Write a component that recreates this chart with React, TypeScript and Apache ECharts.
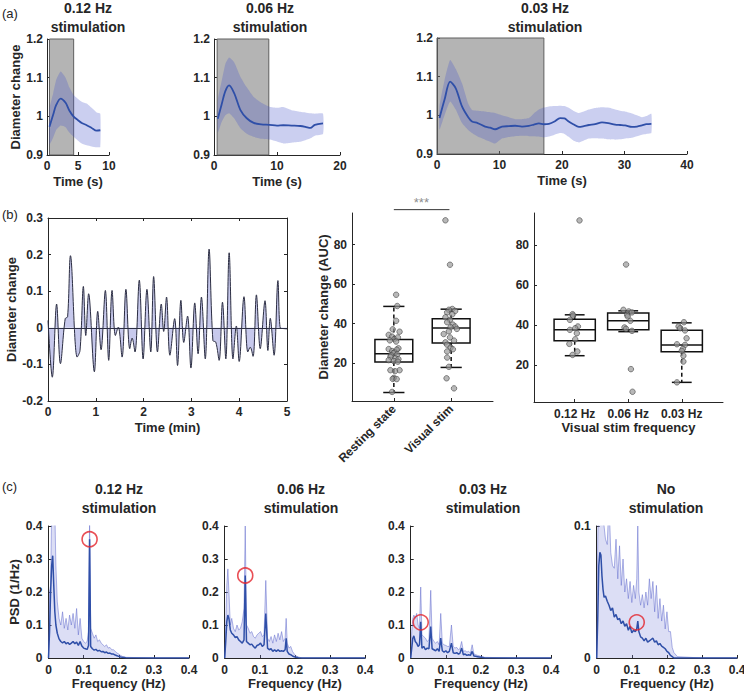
import { useEffect, useRef } from 'react';
import * as echarts from 'echarts';

const FONT = '"Liberation Sans", Arial, Helvetica, sans-serif';
const TXT = '#262626';
const MEAN_BLUE = '#2f4fa8';
const BAND_A = 'rgba(70,82,200,0.28)';
const GREY_STIM = 'rgba(105,105,105,0.5)';
const RED = '#e4232b';

// ---------------- Panel (a) ----------------
const aTitles = ['0.12 Hz', '0.06 Hz', '0.03 Hz'];
const aTimeMax = [10, 20, 40];
const aTimeStep = [5, 10, 10];
const aStimWindow = [[0.4, 4.3], [0.5, 8.7], [0, 17.1]];

const a1Time = [0.4, 1.0, 1.5, 2.2, 3.0, 3.6, 4.3, 5.0, 5.6, 6.4, 7.2, 8.0, 8.6];
const a1Mean = [0.973, 1.005, 1.03, 1.046, 1.035, 1.015, 0.999, 0.99, 0.983, 0.977, 0.97, 0.963, 0.964];
const a1Upper = [1.02, 1.06, 1.095, 1.116, 1.1, 1.075, 1.055, 1.045, 1.038, 1.033, 1.022, 1.01, 1.007];
const a1Lower = [0.927, 0.945, 0.965, 0.976, 0.972, 0.958, 0.947, 0.937, 0.93, 0.925, 0.922, 0.92, 0.921];

const a2Time = [0.6, 1.2, 1.8, 2.4, 3.2, 4.2, 5.2, 6.3, 7.5, 8.8, 10, 11, 12.3, 13.7, 14.5, 15.3, 16, 17.3];
const a2Mean = [0.994, 1.03, 1.065, 1.08, 1.06, 1.016, 0.995, 0.983, 0.979, 0.978, 0.976, 0.977, 0.976, 0.975, 0.973, 0.97, 0.978, 0.982];
const a2Upper = [1.042, 1.09, 1.135, 1.152, 1.14, 1.102, 1.075, 1.05, 1.035, 1.025, 1.022, 1.024, 1.016, 1.012, 1.01, 1.008, 1.007, 1.007];
const a2Lower = [0.958, 0.985, 1.003, 1.008, 0.995, 0.969, 0.955, 0.947, 0.942, 0.94, 0.935, 0.93, 0.932, 0.934, 0.938, 0.943, 0.95, 0.954];

const a3Time = [0.4, 1.2, 2.1, 3.0, 4.0, 5.0, 5.6, 6.5, 7.7, 8.5, 9.3, 10.4, 11.5, 12.5, 13.6, 14.7, 15.5, 16.3, 17.1, 17.9, 18.8, 19.7, 20.4, 21.0, 21.8, 22.7, 23.5, 24.3, 25.3, 26.4, 27.4, 28.5, 29.3, 30.1, 31.2, 32.0, 32.8, 33.5, 34.3];
const a3Mean = [0.993, 1.04, 1.087, 1.07, 1.023, 0.995, 0.984, 0.98, 0.971, 0.968, 0.964, 0.971, 0.972, 0.973, 0.971, 0.973, 0.976, 0.979, 0.977, 0.978, 0.984, 0.993, 0.992, 0.985, 0.977, 0.97, 0.972, 0.975, 0.977, 0.982, 0.98, 0.976, 0.975, 0.974, 0.97, 0.971, 0.974, 0.977, 0.978];
const a3Upper = [1.023, 1.09, 1.143, 1.12, 1.083, 1.03, 1.014, 1.012, 1.01, 1.008, 1.006, 1.0, 0.995, 0.99, 0.99, 0.993, 1.005, 1.015, 1.02, 1.023, 1.024, 1.025, 1.024, 1.02, 1.012, 1.006, 1.01, 1.015, 1.019, 1.021, 1.02, 1.015, 1.012, 1.01, 1.005, 1.0, 0.995, 0.998, 1.004];
const a3Lower = [0.963, 1.0, 1.036, 1.015, 0.98, 0.962, 0.954, 0.945, 0.937, 0.932, 0.927, 0.94, 0.944, 0.946, 0.947, 0.946, 0.946, 0.945, 0.943, 0.945, 0.95, 0.954, 0.952, 0.945, 0.935, 0.93, 0.935, 0.94, 0.941, 0.94, 0.938, 0.937, 0.938, 0.94, 0.942, 0.946, 0.95, 0.952, 0.954];

// ---------------- Panel (b) ----------------
const b1Time = [0, 0.09, 0.18, 0.26, 0.36, 0.41, 0.47, 0.61, 0.67, 0.74, 0.79, 0.85, 0.97, 1.04, 1.11, 1.2, 1.27, 1.34, 1.41, 1.47, 1.55, 1.63, 1.71, 1.76, 1.82, 1.91, 1.99, 2.07, 2.15, 2.21, 2.29, 2.37, 2.42, 2.48, 2.55, 2.65, 2.71, 2.78, 2.84, 2.92, 2.99, 3.07, 3.14, 3.21, 3.29, 3.37, 3.45, 3.51, 3.58, 3.65, 3.72, 3.79, 3.87, 3.94, 4.0, 4.1, 4.18, 4.23, 4.29, 4.36, 4.44, 4.54, 4.6, 4.65, 4.73, 4.81, 4.86, 4.92, 5.0];
const b1Value = [0.02, -0.135, 0.065, -0.098, 0.025, 0.03, 0.197, -0.08, -0.062, 0.113, -0.021, 0.093, -0.12, 0.045, -0.06, 0.102, -0.089, 0.102, -0.021, 0.002, -0.08, 0.105, -0.057, -0.028, -0.066, 0.13, -0.085, 0.105, -0.066, 0.14, -0.066, 0.065, -0.01, 0.084, -0.075, 0.025, -0.103, 0.075, -0.04, 0.032, -0.11, 0.068, -0.071, 0.084, -0.085, 0.215, -0.035, -0.039, -0.089, 0.07, -0.085, 0.205, -0.085, 0.005, -0.092, 0.085, -0.066, -0.053, -0.078, 0.09, -0.057, 0.074, -0.062, 0.026, -0.075, 0.129, -0.001, -0.002, -0.003];

const b2Categories = ['Resting state', 'Visual stim'];
// [lower whisker, Q1, median, Q3, upper whisker]
const b2Box = [
  [5.1, 20.5, 24.7, 32.0, 48.7],
  [17.8, 30.2, 37.8, 42.4, 47.3],
];
const restingPoints = [
  [1.04, 54.6], [1.06, 48.9], [1.04, 41.4], [0.98, 37.1], [1.10, 35.9], [0.91, 34.3], [0.97, 33.4], [1.01, 32.2],
  [1.07, 33.0], [0.93, 31.5], [1.04, 30.9], [0.91, 27.1], [1.08, 27.5], [0.97, 26.1], [1.05, 26.8], [1.01, 25.4],
  [0.99, 25.0], [1.06, 24.4], [0.95, 24.0], [0.94, 23.2], [1.03, 22.4], [1.08, 22.0], [0.91, 21.5], [1.0, 21.0],
  [1.07, 20.7], [0.94, 16.4], [1.10, 16.4], [1.02, 15.9], [1.0, 12.5], [0.98, 12.0], [1.05, 11.9], [0.97, 5.4],
];
const visualPoints = [
  [1.90, 92.3], [1.98, 69.8], [2.02, 47.4], [1.96, 47.0], [2.07, 46.4], [1.93, 45.7], [2.02, 44.7], [1.90, 43.2],
  [1.98, 41.9], [1.93, 40.7], [2.03, 39.5], [2.07, 38.5], [1.99, 38.2], [2.10, 37.3], [1.96, 36.1], [1.87, 34.7],
  [1.98, 33.0], [2.05, 31.4], [1.90, 30.5], [1.93, 29.3], [1.99, 27.9], [2.03, 27.0], [1.93, 25.9], [1.93, 22.8],
  [1.96, 18.1], [1.92, 12.3], [2.05, 7.2],
];
const sigLevel = 97.7;
const sigText = '***';

const b3Categories = ['0.12 Hz', '0.06 Hz', '0.03 Hz'];
const b3Box = [
  [24.8, 32.2, 37.7, 43.0, 45.2],
  [36.8, 37.7, 42.2, 46.1, 47.2],
  [11.5, 26.8, 30.2, 37.5, 41.2],
];
const b3Points012 = [[1.09, 92.3], [0.96, 45.5], [0.97, 44.8], [0.91, 42.7], [1.06, 39.4], [0.91, 37.7], [1.01, 38.5], [1.04, 36.0], [1.01, 33.0], [0.90, 30.7], [1.05, 26.9], [0.96, 25.2]];
const b3Points006 = [[1.96, 70.3], [1.91, 47.7], [2.01, 46.9], [2.07, 46.4], [1.98, 45.2], [1.99, 44.4], [2.04, 42.2], [1.93, 38.9], [1.96, 38.2], [2.07, 37.2], [2.05, 18.1], [2.08, 6.8]];
const b3Points003 = [[3.04, 41.5], [2.94, 39.4], [2.97, 38.5], [3.06, 37.4], [3.09, 33.5], [2.91, 30.5], [3.06, 30.2], [3.02, 28.2], [3.0, 27.2], [3.03, 24.8], [3.03, 21.9], [2.91, 11.5]];

// ---------------- Panel (c) ----------------
const cTitles = [['0.12 Hz', 'stimulation'], ['0.06 Hz', 'stimulation'], ['0.03 Hz', 'stimulation'], ['No', 'stimulation']];
const cYMax = [0.4, 0.4, 0.4, 0.1];
const cPeaks = [[0.117, 0.36], [0.0585, 0.25], [0.0285, 0.108], [0.114, 0.027]];

const c1Freq = [0, 0.003, 0.006, 0.009, 0.012, 0.015, 0.018, 0.021, 0.025, 0.03, 0.035, 0.04, 0.045, 0.05, 0.055, 0.06, 0.065, 0.07, 0.075, 0.08, 0.085, 0.09, 0.095, 0.1, 0.105, 0.11, 0.114, 0.117, 0.12, 0.125, 0.13, 0.135, 0.14, 0.145, 0.15, 0.155, 0.16, 0.165, 0.17, 0.175, 0.18, 0.185, 0.19, 0.195, 0.2, 0.205, 0.21, 0.22, 0.3, 0.4];
const c1Mean = [0, 0.08, 0.2, 0.28, 0.31, 0.22, 0.14, 0.1, 0.075, 0.058, 0.05, 0.046, 0.05, 0.043, 0.047, 0.041, 0.045, 0.05, 0.043, 0.048, 0.038, 0.05, 0.036, 0.03, 0.028, 0.026, 0.038, 0.36, 0.035, 0.028, 0.024, 0.026, 0.021, 0.023, 0.019, 0.02, 0.016, 0.018, 0.014, 0.015, 0.012, 0.012, 0.009, 0.007, 0.005, 0.003, 0.002, 0.001, 0, 0];
const c1Upper = [0, 0.2, 0.22, 0.45, 0.45, 0.45, 0.45, 0.28, 0.17, 0.12, 0.1, 0.14, 0.09, 0.12, 0.085, 0.13, 0.1, 0.135, 0.09, 0.15, 0.07, 0.12, 0.06, 0.05, 0.045, 0.05, 0.08, 0.42, 0.09, 0.075, 0.06, 0.07, 0.05, 0.055, 0.045, 0.04, 0.035, 0.04, 0.03, 0.032, 0.025, 0.025, 0.02, 0.015, 0.012, 0.008, 0.005, 0.002, 0, 0];

const c2Freq = [0, 0.003, 0.006, 0.009, 0.012, 0.016, 0.02, 0.025, 0.03, 0.035, 0.04, 0.045, 0.05, 0.055, 0.0585, 0.062, 0.067, 0.072, 0.077, 0.082, 0.087, 0.092, 0.097, 0.102, 0.107, 0.112, 0.117, 0.122, 0.127, 0.132, 0.137, 0.142, 0.147, 0.152, 0.157, 0.162, 0.167, 0.172, 0.175, 0.178, 0.183, 0.188, 0.193, 0.198, 0.203, 0.21, 0.22, 0.3, 0.4];
const c2Mean = [0, 0.05, 0.11, 0.13, 0.12, 0.085, 0.075, 0.07, 0.062, 0.065, 0.055, 0.05, 0.045, 0.055, 0.25, 0.05, 0.045, 0.04, 0.042, 0.035, 0.03, 0.038, 0.04, 0.045, 0.035, 0.04, 0.135, 0.03, 0.025, 0.028, 0.02, 0.025, 0.02, 0.025, 0.02, 0.022, 0.02, 0.025, 0.06, 0.02, 0.012, 0.01, 0.006, 0.004, 0.002, 0.001, 0, 0, 0];
const c2Upper = [0, 0.1, 0.22, 0.27, 0.2, 0.1, 0.12, 0.09, 0.08, 0.1, 0.085, 0.09, 0.11, 0.15, 0.4, 0.1, 0.09, 0.075, 0.08, 0.065, 0.06, 0.07, 0.075, 0.08, 0.065, 0.07, 0.235, 0.06, 0.05, 0.065, 0.045, 0.07, 0.05, 0.075, 0.055, 0.08, 0.05, 0.06, 0.12, 0.045, 0.03, 0.035, 0.02, 0.012, 0.006, 0.003, 0, 0, 0];

const c3Freq = [0, 0.003, 0.006, 0.009, 0.013, 0.017, 0.021, 0.025, 0.0285, 0.032, 0.037, 0.042, 0.047, 0.052, 0.057, 0.061, 0.066, 0.071, 0.076, 0.081, 0.0855, 0.09, 0.095, 0.1, 0.105, 0.11, 0.116, 0.121, 0.126, 0.131, 0.136, 0.14, 0.145, 0.15, 0.155, 0.16, 0.165, 0.17, 0.175, 0.18, 0.185, 0.19, 0.2, 0.21, 0.3, 0.4];
const c3Mean = [0, 0.03, 0.06, 0.067, 0.05, 0.045, 0.035, 0.04, 0.11, 0.03, 0.035, 0.025, 0.03, 0.028, 0.095, 0.028, 0.025, 0.022, 0.028, 0.02, 0.06, 0.022, 0.018, 0.022, 0.016, 0.02, 0.045, 0.016, 0.014, 0.016, 0.012, 0.014, 0.03, 0.01, 0.012, 0.008, 0.01, 0.008, 0.02, 0.006, 0.005, 0.004, 0.002, 0.001, 0, 0];
const c3Upper = [0, 0.08, 0.12, 0.13, 0.12, 0.135, 0.1, 0.09, 0.215, 0.07, 0.065, 0.06, 0.05, 0.055, 0.205, 0.06, 0.05, 0.045, 0.05, 0.04, 0.135, 0.045, 0.04, 0.038, 0.035, 0.035, 0.1, 0.035, 0.03, 0.032, 0.025, 0.028, 0.05, 0.02, 0.022, 0.018, 0.02, 0.015, 0.04, 0.012, 0.01, 0.008, 0.005, 0.002, 0, 0];

const c4Freq = [0, 0.003, 0.006, 0.009, 0.012, 0.015, 0.018, 0.021, 0.025, 0.03, 0.035, 0.04, 0.045, 0.05, 0.055, 0.06, 0.065, 0.07, 0.075, 0.08, 0.085, 0.09, 0.095, 0.1, 0.105, 0.11, 0.114, 0.117, 0.12, 0.125, 0.13, 0.135, 0.14, 0.145, 0.15, 0.155, 0.16, 0.165, 0.17, 0.175, 0.18, 0.185, 0.19, 0.195, 0.2, 0.205, 0.21, 0.215, 0.22, 0.23, 0.3, 0.4];
const c4Mean = [0, 0.03, 0.07, 0.08, 0.078, 0.062, 0.052, 0.046, 0.047, 0.043, 0.04, 0.036, 0.038, 0.031, 0.033, 0.029, 0.03, 0.026, 0.028, 0.024, 0.026, 0.021, 0.024, 0.019, 0.021, 0.02, 0.022, 0.028, 0.02, 0.016, 0.015, 0.013, 0.015, 0.012, 0.013, 0.014, 0.015, 0.012, 0.013, 0.01, 0.011, 0.009, 0.008, 0.007, 0.005, 0.004, 0.002, 0.001, 0, 0, 0, 0];
const c4Upper = [0, 0.09, 0.13, 0.14, 0.13, 0.12, 0.11, 0.1, 0.09, 0.086, 0.12, 0.08, 0.07, 0.068, 0.09, 0.06, 0.085, 0.055, 0.075, 0.05, 0.06, 0.045, 0.058, 0.042, 0.055, 0.045, 0.06, 0.1, 0.05, 0.04, 0.048, 0.038, 0.05, 0.04, 0.06, 0.045, 0.058, 0.035, 0.055, 0.03, 0.045, 0.028, 0.04, 0.022, 0.035, 0.02, 0.02, 0.008, 0.004, 0.001, 0, 0];

// ---------------- helpers ----------------
const zip = (xs: number[], ys: number[]) => xs.map((x, i) => [x, ys[i]]);

const labelStyle = { color: TXT, fontFamily: FONT, fontWeight: 'bold', fontSize: 12 };
const nameStyle = { color: TXT, fontFamily: FONT, fontWeight: 'bold', fontSize: 13 };

function axis(gridIndex: number, extra: any = {}) {
  const base: any = {
    gridIndex,
    type: 'value',
    axisLine: { show: true, onZero: false, lineStyle: { color: TXT, width: 1 } },
    axisTick: { show: true, inside: true, length: 3, lineStyle: { color: TXT, width: 1 } },
    axisLabel: { ...labelStyle, margin: 5 },
    splitLine: { show: false },
    nameLocation: 'middle',
    nameTextStyle: nameStyle,
  };
  const out = { ...base, ...extra };
  out.axisLabel = { ...base.axisLabel, ...(extra.axisLabel || {}) };
  out.axisTick = { ...base.axisTick, ...(extra.axisTick || {}) };
  out.axisLine = { ...base.axisLine, ...(extra.axisLine || {}) };
  return out;
}

// band drawn as one polygon through the axis scales (upper edge, then lower edge back)
function bandRenderer(xs: number[], lo: number[], hi: number[]) {
  return (params: any, api: any) => {
    if (params.dataIndex !== 0) return null;
    const top = xs.map((x, i) => api.coord([x, hi[i]]));
    const bottom = xs.map((x, i) => api.coord([x, lo[i]])).reverse();
    return {
      type: 'polygon',
      shape: { points: top.concat(bottom), smooth: 0.15 },
      style: { fill: BAND_A, stroke: 'none' },
    };
  };
}

function boxRenderer(boxW: number, capW: number) {
  return (params: any, api: any) => {
    const x = api.value(0);
    const lo = api.coord([x, api.value(1)]);
    const q1 = api.coord([x, api.value(2)]);
    const med = api.coord([x, api.value(3)]);
    const q3 = api.coord([x, api.value(4)]);
    const hi = api.coord([x, api.value(5)]);
    const bw = api.size([boxW, 0])[0];
    const cw = api.size([capW, 0])[0];
    const cx = lo[0];
    const stroke = '#111111';
    return {
      type: 'group',
      children: [
        { type: 'line', shape: { x1: cx, y1: q3[1], x2: cx, y2: hi[1] }, style: { stroke, lineWidth: 1.5, lineDash: [4, 3] } },
        { type: 'line', shape: { x1: cx, y1: q1[1], x2: cx, y2: lo[1] }, style: { stroke, lineWidth: 1.5, lineDash: [4, 3] } },
        { type: 'line', shape: { x1: cx - cw / 2, y1: hi[1], x2: cx + cw / 2, y2: hi[1] }, style: { stroke, lineWidth: 1.5 } },
        { type: 'line', shape: { x1: cx - cw / 2, y1: lo[1], x2: cx + cw / 2, y2: lo[1] }, style: { stroke, lineWidth: 1.5 } },
        { type: 'rect', shape: { x: cx - bw / 2, y: q3[1], width: bw, height: q1[1] - q3[1] }, style: { stroke, lineWidth: 1.5, fill: 'transparent' } },
        { type: 'line', shape: { x1: cx - bw / 2, y1: med[1], x2: cx + bw / 2, y2: med[1] }, style: { stroke, lineWidth: 1.5 } },
      ],
    };
  };
}

const pointStyle = { color: 'rgba(150,150,150,0.85)', borderColor: '#3a3a3a', borderWidth: 0.7 };

function titleText(x: number, y: number, text: string) {
  return {
    type: 'text', x, y, silent: true,
    style: {
      text, fill: TXT, font: `bold 14px ${FONT}`,
      textAlign: 'center', align: 'center', textVerticalAlign: 'middle', verticalAlign: 'middle',
    },
  };
}

function letterText(x: number, y: number, text: string) {
  return {
    type: 'text', x, y, silent: true,
    style: {
      text, fill: TXT, font: `13px ${FONT}`,
      textAlign: 'left', align: 'left', textVerticalAlign: 'middle', verticalAlign: 'middle',
    },
  };
}

function buildOption() {
  const grids = [
    { left: 47, top: 39, width: 62, height: 116 },
    { left: 214, top: 39, width: 126, height: 116 },
    { left: 437, top: 38, width: 250, height: 116 },
    { left: 48, top: 218, width: 239, height: 183 },
    { left: 352, top: 213, width: 141, height: 188 },
    { left: 534, top: 213, width: 189, height: 189 },
    { left: 48.5, top: 526, width: 140.5, height: 132 },
    { left: 224.7, top: 526, width: 140.5, height: 132 },
    { left: 410.7, top: 526, width: 140.5, height: 132 },
    { left: 596.7, top: 526, width: 140.5, height: 132 },
  ].map((g) => ({ ...g, containLabel: false, outerBoundsMode: 'none', show: false }));

  const xAxes: any[] = [];
  const yAxes: any[] = [];
  const series: any[] = [];
  const graphic: any[] = [];

  // ---- panel a
  const aData = [
    { time: a1Time, mean: a1Mean, upper: a1Upper, lower: a1Lower },
    { time: a2Time, mean: a2Mean, upper: a2Upper, lower: a2Lower },
    { time: a3Time, mean: a3Mean, upper: a3Upper, lower: a3Lower },
  ];
  const aTitleX = [88, 270, 545];
  aData.forEach((d, i) => {
    xAxes.push(axis(i, { min: 0, max: aTimeMax[i], interval: aTimeStep[i], name: 'Time (s)', nameGap: 20 }));
    yAxes.push(axis(i, { min: 0.9, max: 1.2, interval: 0.1, name: i === 0 ? 'Diameter change' : '', nameGap: 25, axisLabel: { margin: 4 } }));
    series.push({
      type: 'custom', xAxisIndex: i, yAxisIndex: i,
      data: d.time.map((t, k) => [t, d.lower[k], d.upper[k]]),
      encode: { x: 0, y: [1, 2] },
      renderItem: bandRenderer(d.time, d.lower, d.upper),
      silent: true, z: 2,
    });
    series.push({
      type: 'line', xAxisIndex: i, yAxisIndex: i, data: zip(d.time, d.mean),
      symbol: 'none', smooth: 0.3, lineStyle: { color: MEAN_BLUE, width: 1.8 }, silent: true, z: 3,
      markArea: {
        silent: true,
        label: { show: false },
        itemStyle: { color: GREY_STIM, borderColor: '#5f5f5f', borderWidth: 1 },
        data: [[{ xAxis: aStimWindow[i][0], yAxis: 0.9 }, { xAxis: aStimWindow[i][1], yAxis: 1.2 }]],
      },
    });
    graphic.push(titleText(aTitleX[i], 7.7, aTitles[i]));
    graphic.push(titleText(aTitleX[i], 26.5, 'stimulation'));
  });

  // ---- panel b1 (index 3)
  xAxes.push(axis(3, { min: 0, max: 5, interval: 1, name: 'Time (min)', nameGap: 20 }));
  yAxes.push(axis(3, { min: -0.2, max: 0.3, interval: 0.1, name: 'Diameter change', nameGap: 23, axisLabel: { margin: 5 } }));
  series.push({
    type: 'line', xAxisIndex: 3, yAxisIndex: 3, data: zip(b1Time, b1Value),
    symbol: 'none', smooth: 0.35, lineStyle: { color: '#2b2d42', width: 1 },
    areaStyle: { color: 'rgba(110,115,205,0.55)', origin: 0 }, silent: true, z: 2,
    markLine: {
      silent: true, symbol: ['none', 'none'], label: { show: false },
      lineStyle: { color: '#2b2d42', type: 'solid', width: 1 },
      data: [{ yAxis: 0 }],
    },
  });

  // ---- panel b2 (index 4)
  xAxes.push(axis(4, {
    min: 0.27, max: 2.73,
    axisLabel: { customValues: [1, 2], rotate: 45, margin: 6, formatter: (v: number) => b2Categories[Math.round(v) - 1] || '' },
    axisTick: { customValues: [1, 2] },
  }));
  yAxes.push(axis(4, {
    min: 0.8, max: 96, name: 'Diameter change (AUC)', nameGap: 17,
    axisLabel: { customValues: [20, 40, 60, 80], margin: 5 }, axisTick: { customValues: [20, 40, 60, 80] },
  }));
  series.push({
    type: 'custom', xAxisIndex: 4, yAxisIndex: 4, renderItem: boxRenderer(0.66, 0.37),
    data: b2Box.map((b, i) => [i + 1, ...b]), silent: true, z: 3,
  });
  series.push({ type: 'scatter', xAxisIndex: 4, yAxisIndex: 4, data: restingPoints, symbolSize: 5.5, itemStyle: pointStyle, silent: true, z: 4 });
  series.push({ type: 'scatter', xAxisIndex: 4, yAxisIndex: 4, data: visualPoints, symbolSize: 5.5, itemStyle: pointStyle, silent: true, z: 4 });
  series.push({
    type: 'line', xAxisIndex: 4, yAxisIndex: 4, data: [[1, sigLevel], [1.97, sigLevel]], clip: false,
    symbol: 'none', lineStyle: { color: '#333', width: 1 }, silent: true, z: 4,
  });
  series.push({
    type: 'scatter', xAxisIndex: 4, yAxisIndex: 4, data: [[1.48, sigLevel]], clip: false, symbolSize: 1,
    itemStyle: { color: 'rgba(0,0,0,0)' }, silent: true, z: 4,
    label: { show: true, formatter: sigText, position: 'top', distance: 0, color: '#6e6e6e', fontFamily: FONT, fontSize: 13 },
  });

  // ---- panel b3 (index 5)
  xAxes.push(axis(5, {
    min: 0.24, max: 3.77, name: 'Visual stim frequency', nameGap: 18,
    axisLabel: { customValues: [1, 2, 3], margin: 6, formatter: (v: number) => b3Categories[Math.round(v) - 1] || '' },
    axisTick: { customValues: [1, 2, 3] },
  }));
  yAxes.push(axis(5, {
    min: 1.7, max: 96,
    axisLabel: { customValues: [20, 40, 60, 80], margin: 5 }, axisTick: { customValues: [20, 40, 60, 80] },
  }));
  series.push({
    type: 'custom', xAxisIndex: 5, yAxisIndex: 5, renderItem: boxRenderer(0.77, 0.37),
    data: b3Box.map((b, i) => [i + 1, ...b]), silent: true, z: 3,
  });
  [b3Points012, b3Points006, b3Points003].forEach((pts) => {
    series.push({ type: 'scatter', xAxisIndex: 5, yAxisIndex: 5, data: pts, symbolSize: 5.5, itemStyle: pointStyle, silent: true, z: 4 });
  });

  // ---- panel c (indices 6..9)
  const cData = [
    { f: c1Freq, m: c1Mean, u: c1Upper },
    { f: c2Freq, m: c2Mean, u: c2Upper },
    { f: c3Freq, m: c3Mean, u: c3Upper },
    { f: c4Freq, m: c4Mean, u: c4Upper },
  ];
  const cTitleX = [119, 301, 483, 666];
  cData.forEach((d, k) => {
    const gi = 6 + k;
    xAxes.push(axis(gi, { min: 0, max: 0.4, interval: 0.1, name: 'Frequency (Hz)', nameGap: 13, axisLabel: { margin: 6 } }));
    yAxes.push(axis(gi, { min: 0, max: cYMax[k], interval: 0.1, name: k === 0 ? 'PSD (1/Hz)' : '', nameGap: 28, axisLabel: { margin: 6 } }));
    series.push({
      type: 'line', xAxisIndex: gi, yAxisIndex: gi, data: zip(d.f, d.u), symbol: 'none', clip: true,
      lineStyle: { color: 'rgba(95,105,205,0.5)', width: 1 }, areaStyle: { color: 'rgba(125,132,218,0.38)', origin: 0 }, silent: true, z: 2,
    });
    series.push({
      type: 'line', xAxisIndex: gi, yAxisIndex: gi, data: zip(d.f, d.m), symbol: 'none', clip: true,
      lineStyle: { color: MEAN_BLUE, width: 1.5 }, silent: true, z: 3,
    });
    series.push({
      type: 'scatter', xAxisIndex: gi, yAxisIndex: gi, data: [cPeaks[k]], symbol: 'circle', symbolSize: 15, clip: false,
      itemStyle: { color: 'rgba(0,0,0,0)', borderColor: RED, borderWidth: 1.6 }, silent: true, z: 5,
    });
    graphic.push(titleText(cTitleX[k], 489, cTitles[k][0]));
    graphic.push(titleText(cTitleX[k], 507.5, cTitles[k][1]));
  });

  // ---- b1 mirror axes (box)
  xAxes.push(axis(3, { min: 0, max: 5, interval: 1, position: 'top', axisLabel: { show: false } }));
  yAxes.push(axis(3, { min: -0.2, max: 0.3, interval: 0.1, position: 'right', axisLabel: { show: false } }));

  // panel letters
  graphic.push(letterText(2, 13, '(a)'));
  graphic.push(letterText(2, 214, '(b)'));
  graphic.push(letterText(2, 486, '(c)'));

  return {
    animation: false,
    backgroundColor: '#ffffff',
    textStyle: { fontFamily: FONT },
    grid: grids,
    xAxis: xAxes,
    yAxis: yAxes,
    series,
    graphic,
  };
}

export default function App() {
  const ref = useRef<HTMLDivElement | null>(null);
  useEffect(() => {
    if (!ref.current) return;
    const chart = echarts.init(ref.current, null, { renderer: 'svg' });
    chart.setOption(buildOption() as any);
    return () => chart.dispose();
  }, []);
  return (
    <div
      ref={ref}
      style={{ position: 'absolute', left: 0, top: 0, width: 744, height: 697, background: '#fff' }}
    />
  );
}
